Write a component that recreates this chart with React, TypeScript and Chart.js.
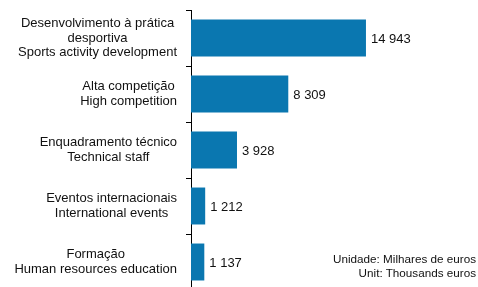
import React, { useEffect, useRef } from "react";
import { Chart, registerables } from "chart.js";

Chart.register(...registerables);

const categories: string[][] = [
  ["Desenvolvimento à prática", "desportiva", "Sports activity development"],
  ["Alta competição", "High competition"],
  ["Enquadramento técnico", "Technical staff"],
  ["Eventos internacionais", "International events"],
  ["Formação", "Human resources education"],
];
const values: number[] = [14943, 8309, 3928, 1212, 1137];
const unitLines: string[] = ["Unidade: Milhares de euros", "Unit: Thousands euros"];

const FONT = '"Liberation Sans", Arial, sans-serif';

const fmt = (n: number) => String(n).replace(/\B(?=(\d{3})+(?!\d))/g, " ");

const labelPlugin = {
  id: "customLabels",
  afterDraw(chart: any) {
    const ctx = chart.ctx;
    const ys = chart.scales.y;
    const area = chart.chartArea;
    ctx.save();
    ctx.font = `13px ${FONT}`;
    ctx.fillStyle = "#111";
    ctx.textBaseline = "middle";
    const lh = 14.5;
    categories.forEach((lines, i) => {
      const cy = ys.getPixelForValue(i);
      const w = Math.max(...lines.map((l) => ctx.measureText(l).width));
      const right = area.left - 14;
      const cx = right - w / 2;
      ctx.textAlign = "center";
      const start = cy - ((lines.length - 1) * lh) / 2;
      lines.forEach((l, k) => ctx.fillText(l, cx, start + k * lh));
    });
    const meta = chart.getDatasetMeta(0);
    ctx.textAlign = "left";
    meta.data.forEach((bar: any, i: number) => {
      ctx.fillText(fmt(values[i]), bar.x + 5, bar.y + 1);
    });
    ctx.restore();
  },
};

export default function App() {
  const ref = useRef<HTMLCanvasElement>(null);
  useEffect(() => {
    if (!ref.current) return;
    const chart = new Chart(ref.current, {
      type: "bar",
      data: {
        labels: categories.map((c) => c.join(" ")),
        datasets: [
          {
            data: values,
            backgroundColor: "#0a77b0",
            borderWidth: 0,
            barPercentage: 0.66,
            categoryPercentage: 1,
          },
        ],
      },
      options: {
        indexAxis: "y",
        responsive: false,
        animation: false,
        layout: { padding: { left: 186, right: 6, top: 10, bottom: 2 } },
        plugins: { legend: { display: false }, tooltip: { enabled: false } },
        scales: {
          x: { display: false, min: 0, max: 24000 },
          y: {
            ticks: { display: false },
            grid: {
              display: true,
              drawOnChartArea: false,
              drawTicks: true,
              tickLength: 5,
              color: "#000",
              offset: true,
            },
            border: { display: true, color: "#000", width: 1 },
          },
        },
      },
      plugins: [labelPlugin],
    });
    return () => chart.destroy();
  }, []);
  return (
    <div
      style={{
        position: "fixed",
        left: 0,
        top: 0,
        width: 478,
        height: 287,
        overflow: "hidden",
        background: "#fff",
      }}
    >
      <canvas ref={ref} width={478} height={292} style={{ display: "block" }} />
      <div
        style={{
          position: "absolute",
          right: 2,
          top: 252,
          textAlign: "right",
          font: `11.7px ${FONT}`,
          lineHeight: "14px",
          color: "#111",
        }}
      >
        {unitLines.map((l) => (
          <div key={l}>{l}</div>
        ))}
      </div>
    </div>
  );
}
